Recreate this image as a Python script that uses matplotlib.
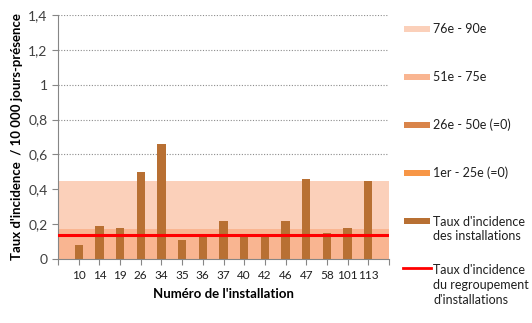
import matplotlib.pyplot as plt
from matplotlib.patches import Rectangle
from matplotlib.lines import Line2D

plt.rcParams['font.family'] = ['Lato', 'DejaVu Sans']

# Data
installations = ['10', '14', '19', '26', '34', '35', '36', '37', '40', '42', '46', '47', '58', '101', '113']
taux = [0.08, 0.19, 0.18, 0.50, 0.66, 0.11, 0.13, 0.22, 0.14, 0.13, 0.22, 0.46, 0.15, 0.18, 0.45]
taux_regroupement = 0.14
# percentile bands (upper limits): 1er-25e, 26e-50e, 51e-75e, 76e-90e
band_labels = ['1er - 25e (=0)', '26e - 50e (=0)', '51e - 75e', '76e - 90e']
band_tops = [0.0, 0.0, 0.175, 0.45]
band_colors = ['#F79646', '#D9844A', '#F9B591', '#FBD0BA']
bar_color = '#B87033'
red = '#FF0000'

W, H = 532, 323
fig = plt.figure(figsize=(W / 100, H / 100), dpi=100)
ax = fig.add_axes([58 / W, (H - 259) / H, (389 - 58) / W, (259 - 15) / H])

n = len(installations)
xs = list(range(1, n + 1))
ax.set_xlim(0, n + 1)
ax.set_ylim(0, 1.4)

# gridlines
ax.set_yticks([0, 0.2, 0.4, 0.6, 0.8, 1.0, 1.2, 1.4])
ax.set_yticklabels(['0', '0,2', '0,4', '0,6', '0,8', '1', '1,2', '1,4'])
ax.yaxis.grid(True, linestyle=(0, (1, 1.5)), color='#8C8C8C', linewidth=0.8)
ax.set_axisbelow(True)

# percentile bands, widest first
for top, col in sorted(zip(band_tops, band_colors), reverse=True):
    if top > 0:
        ax.axhspan(0, top, color=col, zorder=1, linewidth=0)

ax.bar(xs, taux, width=0.4, color=bar_color, zorder=2)
ax.axhline(taux_regroupement, color=red, linewidth=2.2, zorder=3)

ax.set_xticks([0] + xs + [n + 1])
ax.set_xticklabels([''] + installations + [''])
ax.tick_params(axis='x', length=4, color='#868686', labelsize=8.5, pad=4, labelcolor='#1F1F1F')
ax.tick_params(axis='y', length=4, color='#868686', labelsize=10, labelcolor='#404040')
for s in ['top', 'right']:
    ax.spines[s].set_visible(False)
for s in ['left', 'bottom']:
    ax.spines[s].set_color('#868686')

ax.set_xlabel("Numéro de l'installation", fontweight='bold', fontsize=9.5, labelpad=5)
ax.set_ylabel("Taux d'incidence  / 10 000 jours-présence", fontweight='bold', fontsize=9.5, labelpad=4)

# legend drawn by hand to match the layout
tx = 433 / W
fs = 9
ls = 1.3
def patch_entry(y, col, label):
    fig.add_artist(Rectangle((404 / W, 1 - (y + 3) / H), 26 / W, 6 / H,
                             transform=fig.transFigure, color=col, linewidth=0))
    fig.text(tx, 1 - y / H, label, fontsize=fs, va='center', ha='left', color='#1F1F1F')

patch_entry(29, band_colors[3], band_labels[3])
patch_entry(77, band_colors[2], band_labels[2])
patch_entry(125, band_colors[1], band_labels[1])
patch_entry(173, band_colors[0], band_labels[0])
fig.add_artist(Rectangle((404 / W, 1 - (221 + 3) / H), 26 / W, 6 / H,
                         transform=fig.transFigure, color=bar_color, linewidth=0))
fig.text(tx, 1 - 229 / H, "Taux d'incidence\ndes installations", fontsize=fs, va='center',
         ha='left', color='#1F1F1F', linespacing=ls)
fig.add_artist(Line2D([403 / W, 431 / W], [1 - 268 / H, 1 - 268 / H],
                      transform=fig.transFigure, color=red, linewidth=2))
fig.text(tx, 1 - 285 / H, "Taux d'incidence\ndu regroupement\nd'installations", fontsize=fs,
         va='center', ha='left', color='#1F1F1F', linespacing=ls)

fig.savefig('out.png', dpi=100)
